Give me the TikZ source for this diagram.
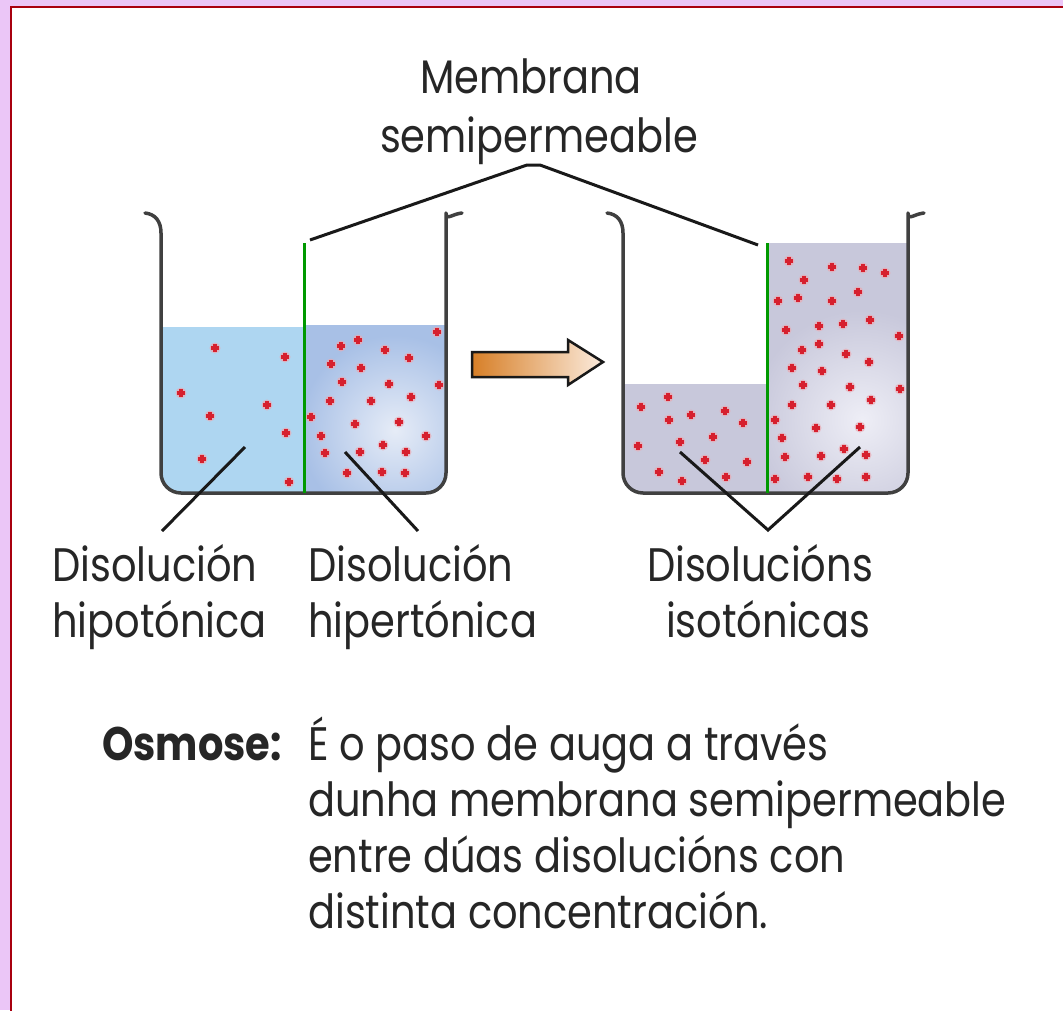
\documentclass[tikz,border=0pt]{standalone}
\usepackage{fontspec}
\setmainfont{Poppins}[FakeStretch=0.85]
\newfontfamily\boldlabel{Poppins}[FakeStretch=0.85,UprightFont=* Bold]
\begin{document}
\begin{tikzpicture}[x=1pt,y=-1pt,
  wall/.style={draw=black!75, line width=3.5pt, line cap=round, line join=round},
  membrane/.style={draw=green!60!black, line width=3pt},
  pointer/.style={draw=black!90, line width=3pt},
  lbl/.style={font=\fontsize{47}{56}\selectfont, inner sep=0pt, text=black!85},
  txt/.style={font=\fontsize{47}{56}\selectfont, inner sep=0pt, anchor=base west, text=black!85},
]
\definecolor{framebg}{HTML}{EBC6F7}
\definecolor{frameline}{HTML}{A8000F}
\definecolor{hypo}{HTML}{AED6F1}
\definecolor{hyper}{HTML}{A8C0E6}
\definecolor{hyperlight}{HTML}{E6ECF7}
\definecolor{iso}{HTML}{C8C8DB}
\definecolor{isolight}{HTML}{EEEEF6}
\definecolor{dotred}{HTML}{D6202E}
\definecolor{dothalo}{HTML}{E9A9B2}
\definecolor{arrowdark}{HTML}{D77F27}
\definecolor{arrowlight}{HTML}{FBEBDD}

% page and frame
\useasboundingbox (0,0) rectangle (1063,1010);
\fill[framebg] (0,0) rectangle (1063,1010);
\fill[white] (11,7) rectangle (1070,1020);
\draw[frameline, line width=2.5pt] (11,1020) -- (11,7) -- (1070,7);

% ---------- left beaker: liquids ----------
\begin{scope}
  \clip[rounded corners=20pt] (161,150) rectangle (446,493);
  \fill[hypo] (161,327) rectangle (304,500);
  \fill[hyper] (304,325) rectangle (446,500);
  \begin{scope}
    \clip (304,325) rectangle (446,500);
    \shade[inner color=hyperlight, outer color=hyper] (395,430) circle (95);
  \end{scope}
\end{scope}

% ---------- right beaker: liquids ----------
\begin{scope}
  \clip[rounded corners=20pt] (623,150) rectangle (908,493);
  \fill[iso] (623,384) rectangle (767,500);
  \fill[iso] (767,243) rectangle (908,500);
  \begin{scope}
    \clip (767,243) rectangle (908,500);
    \shade[inner color=isolight, outer color=iso] (862,420) circle (110);
  \end{scope}
\end{scope}

% ---------- solute particles ----------
\foreach \px/\py in {
  215/348, 285/357, 181/393, 267/405, 210/416, 286/433, 202/459, 289/482,
  437/332, 341/346, 358/340, 385/350, 409/358, 331/364, 361/368, 342/382,
  389/384, 439/385, 411/397, 330/401, 371/401, 311/417, 355/424, 399/422,
  426/436, 321/436, 383/445, 325/453, 360/452, 406/452, 347/473, 382/472, 405/473,
  668/397, 641/407, 691/415, 725/411, 669/420, 743/423, 713/437, 638/446,
  680/442, 705/460, 747/462, 659/472, 726/477, 682/481,
  789/261, 832/267, 863/268, 885/273, 804/280, 858/292, 778/301, 798/298,
  832/301, 870/320, 786/330, 819/326, 843/324, 899/336, 802/350, 819/344,
  846/354, 869/362, 792/368, 822/371, 803/385, 850/387, 900/389, 871/400,
  792/405, 831/405, 775/420, 816/428, 860/427, 782/438, 844/449, 785/457,
  821/456, 866/455, 775/479, 808/477, 837/479, 866/477}
{
  \fill[dothalo, opacity=0.7] (\px,\py) circle (5.5);
  \fill[dotred] (\px-4,\py-1.8) rectangle (\px+4,\py+1.8);
  \fill[dotred] (\px-1.8,\py-4) rectangle (\px+1.8,\py+4);
}

% ---------- beaker walls ----------
\draw[wall] (145,213) .. controls (155,214) and (161,221) .. (161,233)
  [rounded corners=20pt] -- (161,493) -- (446,493) -- (446,233)
  [sharp corners] .. controls (446,221) and (452,214) .. (462,213);
\draw[wall] (607,213) .. controls (617,214) and (623,221) .. (623,233)
  [rounded corners=20pt] -- (623,493) -- (908,493) -- (908,233)
  [sharp corners] .. controls (908,221) and (914,214) .. (924,213);

% ---------- membranes ----------
\coordinate (memL) at (304,243);
\coordinate (memLbot) at (304,493);
\coordinate (memR) at (767,243);
\coordinate (memRbot) at (767,493);
\draw[membrane] (memL) -- (memLbot);
\draw[membrane] (memR) -- (memRbot);

% ---------- process arrow ----------
\shade[left color=arrowdark, right color=arrowlight, draw=black!90, line width=2.5pt, line join=miter]
  (472,352) -- (568,352) -- (568,340) -- (603,362) -- (568,385) -- (568,377) -- (472,377) -- cycle;

% ---------- labels ----------
\node[lbl, anchor=base] (memtitle1) at (531,93) {Membrana};
\node[lbl, anchor=base] (memtitle2) at (539,152) {semipermeable};

\node[lbl, anchor=base west] (hypo1) at (52,581) {Disolución};
\node[lbl, anchor=base west] (hypo2) at (52,637) {hipotónica};
\node[lbl, anchor=base west] (hyper1) at (308,581) {Disolución};
\node[lbl, anchor=base west] (hyper2) at (308,637) {hipertónica};
\node[lbl, anchor=base] (iso1) at (760,581) {Disolucións};
\node[lbl, anchor=base] (iso2) at (768,637) {isotónicas};

% ---------- pointer lines ----------
\coordinate (memLtip) at (310,240);
\coordinate (memRtip) at (758,245);
\draw[pointer] (memLtip) -- (527,165) -- (540,165) -- (memRtip);

\coordinate (hypoIn) at (245,447);
\coordinate (hypoOut) at (162,531);
\coordinate (hyperIn) at (345,452);
\coordinate (hyperOut) at (418,531);
\draw[pointer] (hypoIn) -- (hypoOut);
\draw[pointer] (hyperIn) -- (hyperOut);

\coordinate (isoInL) at (680,452);
\coordinate (isoInR) at (860,447);
\coordinate (isoJoin) at (768,530);
\draw[pointer] (isoInL) -- (isoJoin) -- (isoInR);

% ---------- definition ----------
\node[txt] (osm) at (102,760) {\boldlabel Osmose:};
\node[txt] (def1) at (308,760) {É o paso de auga a través};
\node[txt] (def2) at (308,816) {dunha membrana semipermeable};
\node[txt] (def3) at (308,872) {entre dúas disolucións con};
\node[txt] (def4) at (308,928) {distinta concentración.};
\end{tikzpicture}
\end{document}
